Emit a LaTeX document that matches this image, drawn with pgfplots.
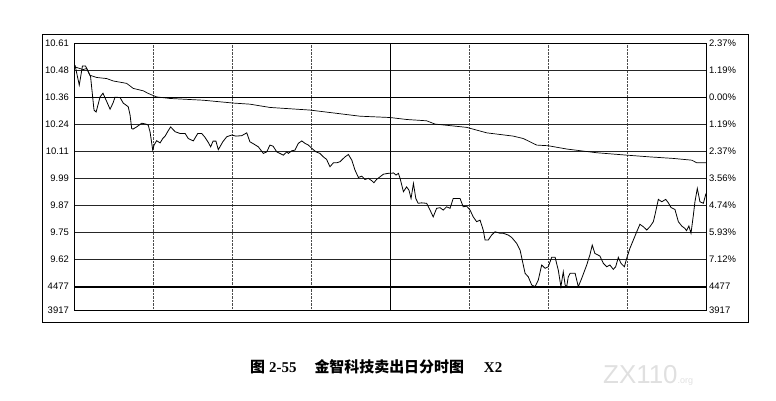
\documentclass[border=0pt]{standalone}
\usepackage{fontspec}
\setmainfont{Liberation Sans}
\newfontfamily\cjk{Noto Sans CJK SC}
\newfontfamily\tnr{Liberation Serif}
\usepackage{pgfplots}
\pgfplotsset{compat=1.18}
\begin{document}
\begin{tikzpicture}
\path[use as bounding box] (0,0) rectangle (776bp,401bp);
\begin{axis}[
    at={(74bp,91bp)}, anchor=south west,
    scale only axis, width=632bp, height=267bp,
    xmin=0, xmax=240, ymin=9.3874, ymax=10.6075,
    axis line style={black, line width=0.8bp},
    xtick={30,60,90,150,180,210}, xticklabels={},
    major tick length=0,
    ytick={9.3874,9.49375,9.6175,9.74125,9.865,9.98875,10.1125,10.23625,10.36,10.48375,10.6075},
    yticklabels={3917,4477,9.62,9.75,9.87,9.99,10.11,10.24,10.36,10.48,10.61},
    ytick pos=left,
    yticklabel style={font=\fontsize{9.5}{10}\selectfont, inner sep=1bp, xshift=-4bp},
    /pgf/number format/assume math mode=true,
    xmajorgrids, ymajorgrids,
    x grid style={densely dotted, black!70, line width=0.6bp},
    y grid style={black!85, line width=0.8bp},
]
\draw[black, line width=0.8bp] (axis cs:120,9.3874) -- (axis cs:120,10.6075);
\draw[black, line width=1.6bp] (axis cs:0,9.49375) -- (axis cs:240,9.49375);
\draw[black, line width=1bp] (axis cs:0,10.36) -- (axis cs:240,10.36);
% average price line
\addplot[black, line width=0.7bp] coordinates {
(0.4,10.498) (3.5,10.486) (4.8,10.491) (6.1,10.460) (8.6,10.450) (12.4,10.445)
(14.9,10.434) (20.0,10.423) (22.5,10.400) (26.3,10.389) (28.2,10.377) (31.4,10.361)
(36.5,10.354) (49.1,10.346) (60.5,10.333) (66.8,10.328) (74.4,10.313) (89.6,10.301)
(99.8,10.286) (108.6,10.273) (120.0,10.267) (126.3,10.258) (133.9,10.252) (137.1,10.237)
(149.1,10.222) (156.7,10.197) (166.8,10.182) (170.6,10.171) (175.7,10.141) (180.1,10.138)
(187.1,10.123) (198.5,10.106) (209.9,10.095) (218.7,10.087) (227.6,10.080) (234.6,10.072)
(236.5,10.060) (240,10.060)
};
% price line
\addplot[black, line width=0.8bp] coordinates {
(0.4,10.506) (2.0,10.415) (3.2,10.502) (4.4,10.502) (6.3,10.453) (7.6,10.301) (8.4,10.292)
(9.9,10.361) (11.0,10.378) (12.2,10.346) (13.7,10.305) (14.8,10.333) (15.6,10.360) (17.5,10.358)
(18.7,10.333) (20.6,10.316) (21.3,10.278) (21.9,10.217) (22.4,10.214) (23.8,10.224) (25.7,10.241)
(27.3,10.237) (28.2,10.232) (28.9,10.200) (29.9,10.118) (30.4,10.141) (31.4,10.161) (32.7,10.151)
(33.7,10.171) (34.6,10.182) (35.7,10.205) (36.7,10.224) (38.4,10.202) (40.3,10.194) (42.2,10.194)
(43.4,10.171) (45.3,10.160) (47.0,10.194) (48.5,10.194) (49.7,10.177) (50.9,10.155) (51.9,10.133)
(52.8,10.159) (53.9,10.159) (54.8,10.120) (56.5,10.156) (58.0,10.179) (59.9,10.187) (61.5,10.182)
(63.7,10.184) (65.6,10.197) (66.8,10.156) (68.4,10.145) (70.0,10.133) (71.9,10.103) (73.2,10.110)
(74.4,10.141) (75.6,10.136) (77.0,10.110) (78.2,10.103) (79.5,10.095) (80.8,10.110) (81.4,10.103)
(82.7,10.115) (83.9,10.118) (85.2,10.149) (86.5,10.160) (87.7,10.149) (89.0,10.141) (90.3,10.126)
(91.9,10.110) (93.4,10.103) (94.7,10.087) (95.9,10.076) (97.2,10.042) (98.5,10.060) (99.8,10.060)
(101.0,10.065) (102.9,10.087) (104.2,10.098) (105.5,10.072) (106.7,10.027) (108.0,9.993) (109.3,9.999)
(110.5,9.984) (111.8,9.989) (113.1,9.978) (113.9,9.969) (114.9,9.984) (116.2,9.996) (117.5,10.008)
(119.4,10.012) (120.6,10.012) (121.3,10.014) (122.3,10.004) (123.2,10.012) (123.8,9.990) (125.1,9.928)
(126.3,9.950) (127.2,9.935) (128.0,9.897) (128.9,9.966) (129.8,9.897) (130.7,9.875) (132.0,9.877)
(133.9,9.875) (135.2,9.844) (136.4,9.813) (137.7,9.852) (139.0,9.855) (140.2,9.844) (141.5,9.859)
(142.8,9.852) (144.0,9.897) (146.6,9.897) (147.8,9.859) (149.1,9.862) (150.4,9.844) (151.6,9.813)
(152.9,9.791) (154.2,9.798) (155.4,9.753) (156.1,9.707) (157.3,9.707) (158.6,9.730) (159.9,9.745)
(161.8,9.738) (163.0,9.738) (164.9,9.730) (166.2,9.719) (168.1,9.692) (169.4,9.661) (170.2,9.616)
(171.3,9.555) (172.5,9.539) (173.8,9.502) (175.1,9.494) (176.3,9.524) (177.6,9.593) (178.9,9.578)
(180.1,9.585) (181.4,9.628) (182.7,9.628) (183.9,9.570) (184.9,9.494) (185.8,9.562) (186.5,9.502)
(187.1,9.494) (187.7,9.539) (188.4,9.555) (190.3,9.555) (191.5,9.494) (192.8,9.532) (194.7,9.593)
(195.9,9.639) (196.8,9.684) (197.8,9.646) (199.7,9.634) (201.0,9.601) (202.3,9.585) (203.5,9.593)
(204.8,9.573) (205.7,9.585) (206.7,9.628) (207.7,9.601) (209.0,9.585) (209.9,9.624) (211.1,9.669)
(212.4,9.707) (213.7,9.745) (214.9,9.779) (216.2,9.768) (217.5,9.753) (218.7,9.768) (220.0,9.791)
(220.6,9.821) (221.9,9.893) (223.2,9.882) (224.7,9.893) (225.7,9.877) (226.7,9.856) (228.2,9.847)
(229.5,9.791) (230.8,9.771) (232.0,9.760) (232.6,9.750) (233.5,9.771) (234.3,9.738) (235.2,9.821)
(235.8,9.882) (236.7,9.943) (237.7,9.882) (239.0,9.875) (240.0,9.920)
};
\end{axis}
\begin{axis}[
    at={(74bp,91bp)}, anchor=south west,
    scale only axis, width=632bp, height=267bp,
    xmin=0, xmax=240, ymin=9.3874, ymax=10.6075,
    hide x axis, axis y line*=right,
    axis line style={black, line width=0.8bp},
    major tick length=0,
    ytick={9.3874,9.49375,9.6175,9.74125,9.865,9.98875,10.1125,10.23625,10.36,10.48375,10.6075},
    yticklabels={3917,4477,7.12\%,5.93\%,4.74\%,3.56\%,2.37\%,1.19\%,0.00\%,1.19\%,2.37\%},
    yticklabel style={font=\fontsize{9.5}{10}\selectfont, inner sep=1bp, xshift=2bp},
    /pgf/number format/assume math mode=true,
]
\end{axis}
% outer frame
\draw[black, line width=0.9bp] (42bp,79bp) -- (42bp,367bp) -- (748bp,367bp) -- (748bp,79bp) -- cycle;
\node[anchor=west, inner sep=0pt] at (250bp,34bp)
  {\bfseries{\fontsize{15}{15}\selectfont\cjk 图}\hspace{4bp}{\fontsize{15}{15}\selectfont\tnr 2-55}\hspace{18bp}{\fontsize{15}{15}\selectfont\cjk 金智科技卖出日分时图}\hspace{20bp}{\fontsize{15}{15}\selectfont\tnr X2}};
\node[anchor=west, inner sep=0pt, text=black!12] at (603bp,26bp)
  {\fontsize{26}{26}\selectfont ZX110{\fontsize{9}{9}\selectfont .org}};
\end{tikzpicture}
\end{document}
